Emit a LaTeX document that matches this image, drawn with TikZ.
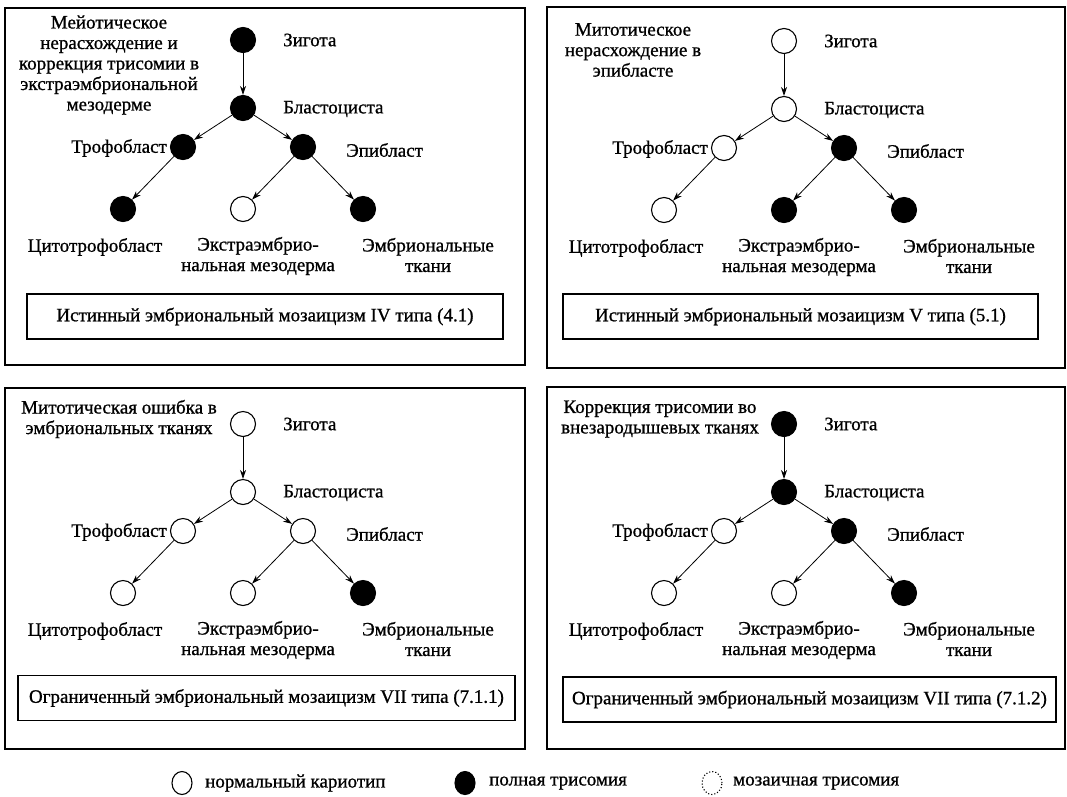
\documentclass[tikz,border=0pt]{standalone}
\usepackage{fontspec}
\setmainfont{Liberation Serif}[BoldFont=Liberation Serif,BoldFeatures={FakeBold=0.9}]
\usetikzlibrary{arrows.meta,shapes.geometric}

% one lineage tree: zygote, blastocyst, trophoblast/epiblast and three tissues
\newcommand{\lineagetree}{%
  \node[zygst] (z) at (243,40) {};
  \node[blast] (b) at (243,108) {};
  \node[trost] (t) at (183,147) {};
  \node[epist] (e) at (303,147) {};
  \node[cytst] (c) at (123,209) {};
  \node[exmst] (x) at (243,209) {};
  \node[embst] (m) at (363,209) {};
  \draw[link] (z) -- (b);
  \draw[link] (b) -- (t);
  \draw[link] (b) -- (e);
  \draw[link] (t) -- (c);
  \draw[link] (e) -- (x);
  \draw[link] (e) -- (m);
  \node[lbl,anchor=west] (zl) at (283,40) {Зигота};
  \node[lbl,anchor=west] (bl) at (283,109) {Бластоциста};
  \node[lbl,anchor=east] (tl) at (167,148) {Трофобласт};
  \node[lbl,anchor=west] (el) at (346,150) {Эпибласт};
  \node[lbl] (cl) at (95,247) {Цитотрофобласт};
  \node[lbl,align=center] (xl) at (258,256) {Экстраэмбрио-\\нальная мезодерма};
  \node[lbl,align=center] (ml) at (428,255) {Эмбриональные\\ткани};
}

\begin{document}
\begin{tikzpicture}[x=1pt,y=-1pt,
  cell/.style={circle,draw=black,line width=1.1pt,minimum size=25pt,inner sep=0pt,fill=white},
  tri/.style={cell,fill=black},
  link/.style={line width=0.8pt,-{Stealth[length=9pt,width=6pt]}},
  lbl/.style={font=\fontsize{19}{20.5}\selectfont\bfseries,inner sep=0pt},
  panel/.style={draw=black,line width=1.4pt},
  typebox/.style={draw=black,line width=1.8pt,minimum height=45pt,inner sep=0pt,font=\fontsize{19}{20}\selectfont\bfseries},
  legcirc/.style={ellipse,draw=black,line width=1.1pt,minimum width=20pt,minimum height=23pt,inner sep=0pt},
]
\useasboundingbox (0,0) rectangle (1067,796);

% panel frames
\draw[panel] (5,8) rectangle (525,365);
\draw[panel] (547,7) rectangle (1065,368);
\draw[panel] (5,388) rectangle (525,749);
\draw[panel] (547,387) rectangle (1065,749);

% type IV
\begin{scope}[name prefix=p1-,
  zygst/.style=tri, blast/.style=tri, trost/.style=tri, epist/.style=tri,
  cytst/.style=tri, exmst/.style=cell, embst/.style=tri]
  \lineagetree
  \node[lbl,align=center] (note) at (109,65)
    {Мейотическое\\нерасхождение и\\коррекция трисомии в\\экстраэмбриональной\\мезодерме};
  \node[typebox,minimum width=476pt] (kind) at (265,316.5)
    {Истинный эмбриональный мозаицизм IV типа (4.1)};
\end{scope}

% type V
\begin{scope}[shift={(541,1)},name prefix=p2-,
  zygst/.style=cell, blast/.style=cell, trost/.style=cell, epist/.style=tri,
  cytst/.style=cell, exmst/.style=tri, embst/.style=tri]
  \lineagetree
  \node[lbl,align=center] (note) at (92,49)
    {Митотическое\\нерасхождение в\\эпибласте};
  \node[typebox,minimum width=475pt] (kind) at (259.5,315.5)
    {Истинный эмбриональный мозаицизм V типа (5.1)};
\end{scope}

% type VII, 7.1.1
\begin{scope}[shift={(0,384)},name prefix=p3-,
  zygst/.style=cell, blast/.style=cell, trost/.style=cell, epist/.style=cell,
  cytst/.style=cell, exmst/.style=cell, embst/.style=tri]
  \lineagetree
  \node[lbl,align=center] (note) at (119,35)
    {Митотическая ошибка в\\эмбриональных тканях};
  \node[typebox,minimum width=497pt] (kind) at (266.5,314)
    {Ограниченный эмбриональный мозаицизм VII типа (7.1.1)};
\end{scope}

% type VII, 7.1.2
\begin{scope}[shift={(541,384)},name prefix=p4-,
  zygst/.style=tri, blast/.style=tri, trost/.style=cell, epist/.style=tri,
  cytst/.style=cell, exmst/.style=cell, embst/.style=tri]
  \lineagetree
  \node[lbl,align=center] (note) at (119,35)
    {Коррекция трисомии во\\внезародышевых тканях};
  \node[typebox,minimum width=493pt] (kind) at (268.5,315.5)
    {Ограниченный эмбриональный мозаицизм VII типа (7.1.2)};
\end{scope}

% legend
\node[legcirc,fill=white] (lg1) at (182,783) {};
\node[lbl,anchor=west] (lt1) at (205,783) {нормальный кариотип};
\node[legcirc,fill=black] (lg2) at (465,783) {};
\node[lbl,anchor=west] (lt2) at (489,783) {полная трисомия};
\node[legcirc,dotted] (lg3) at (712,783) {};
\node[lbl,anchor=west] (lt3) at (733,783) {мозаичная трисомия};
\end{tikzpicture}
\end{document}
